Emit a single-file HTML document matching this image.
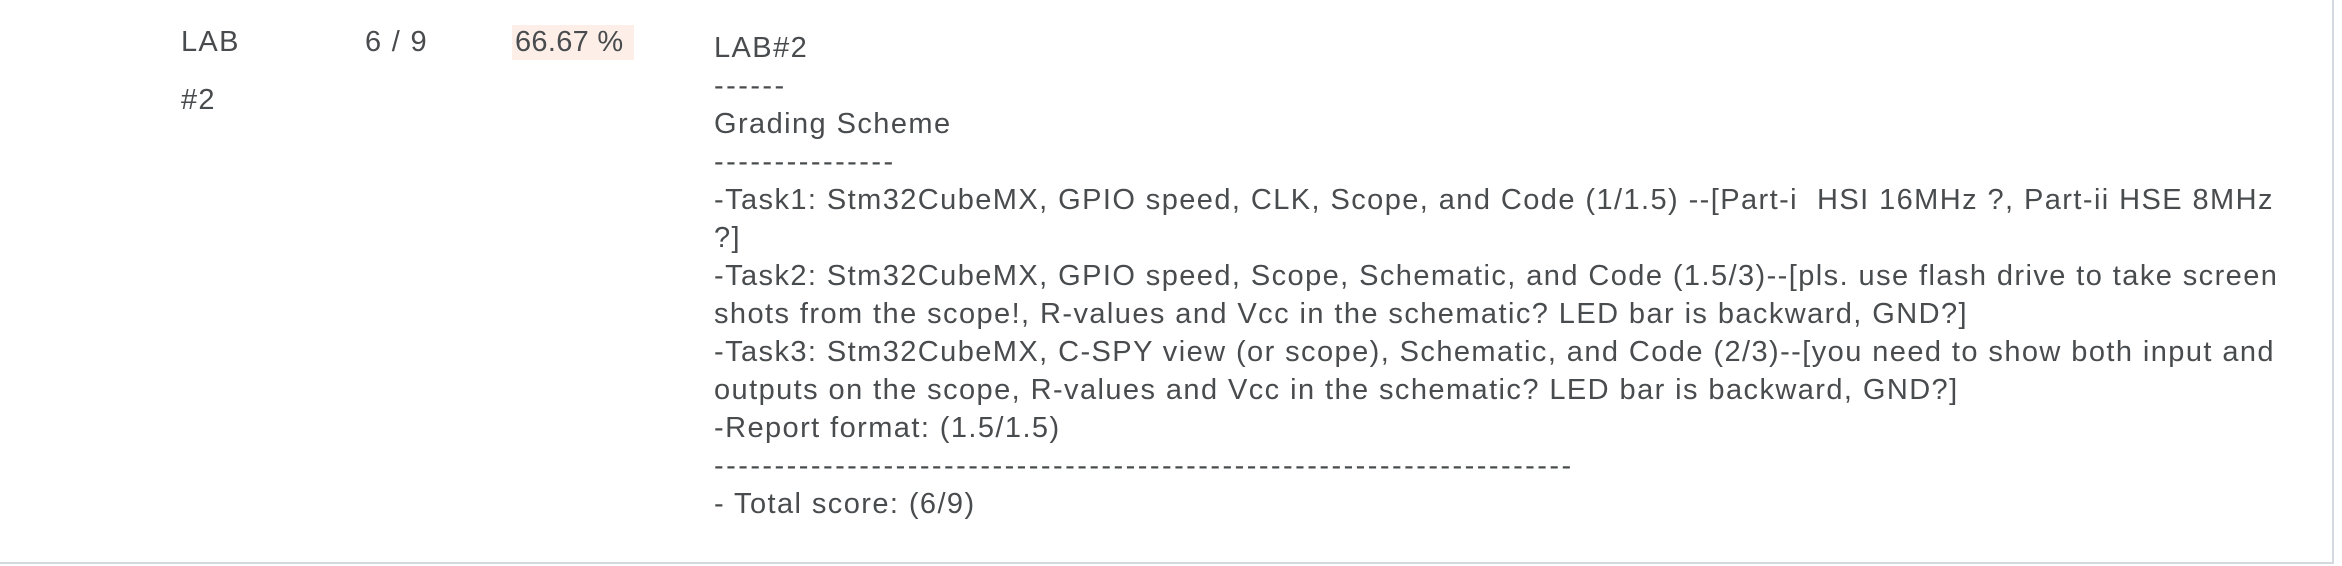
<!DOCTYPE html>
<html><head><meta charset="utf-8"><style>
html,body{margin:0;padding:0;background:#fff;}
body{width:2342px;height:566px;position:relative;overflow:hidden;font-family:"Liberation Sans",sans-serif;color:#494c4e;font-size:29px;}
.t{position:absolute;white-space:nowrap;line-height:38px;letter-spacing:1.3px;}
.box{position:absolute;left:-2px;top:-2px;width:2334px;height:564px;border-right:2px solid #d3d9de;border-bottom:2px solid #d3d9de;}
.hl{position:absolute;left:512px;top:25px;width:122px;height:35px;background:#fdeee8;}
#c{letter-spacing:1.42px;}
#c div{height:38px;}
#c .d{letter-spacing:2.45px;}
</style></head><body>
<div class="box"></div>
<div class="hl"></div>
<div class="t" style="left:181px;top:23px">LAB</div>
<div class="t" style="left:181px;top:81px">#2</div>
<div class="t" style="left:365px;top:23px">6 / 9</div>
<div class="t" style="left:515px;top:23px;letter-spacing:0.3px">66.67 %</div>
<div class="t" id="c" style="left:714px;top:29px">
<div>LAB#2</div>
<div class="d">------</div>
<div>Grading Scheme</div>
<div class="d">---------------</div>
<div>-Task1: Stm32CubeMX, GPIO speed, CLK, Scope, and Code (1/1.5) --[Part-i &nbsp;HSI 16MHz ?, Part-ii HSE 8MHz</div>
<div>?]</div>
<div>-Task2: Stm32CubeMX, GPIO speed, Scope, Schematic, and Code (1.5/3)--[pls. use flash drive to take screen</div>
<div>shots from the scope!, R-values and Vcc in the schematic? LED bar is backward, GND?]</div>
<div>-Task3: Stm32CubeMX, C-SPY view (or scope), Schematic, and Code (2/3)--[you need to show both input and</div>
<div>outputs on the scope, R-values and Vcc in the schematic? LED bar is backward, GND?]</div>
<div>-Report format: (1.5/1.5)</div>
<div class="d">-----------------------------------------------------------------------</div>
<div>- Total score: (6/9)</div>
</div>
</body></html>
